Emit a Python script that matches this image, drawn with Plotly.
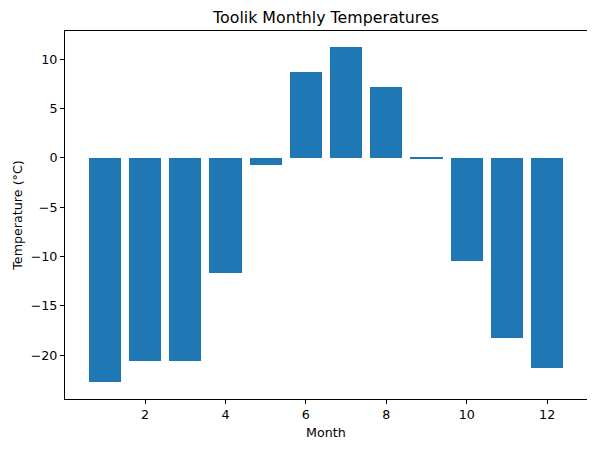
import plotly.graph_objects as go

months = [1, 2, 3, 4, 5, 6, 7, 8, 9, 10, 11, 12]
temperatures = [-22.7, -20.6, -20.6, -11.7, -0.75, 8.65, 11.25, 7.2, -0.06, -10.5, -18.3, -21.35]
x_ticks = [2, 4, 6, 8, 10, 12]
y_ticks = [-20, -15, -10, -5, 0, 5, 10]
y_tick_labels = ["\u221220", "\u221215", "\u221210", "\u22125", "0", "5", "10"]

# page body has an 8px margin, so the figure is sized to fit the 595x451 window
W, H = 587, 443

fig = go.Figure()
fig.add_trace(go.Bar(x=months, y=temperatures, width=0.8,
                     marker=dict(color="#1f77b4", line=dict(width=0))))

axis_common = dict(showline=True, linecolor="black", linewidth=1, mirror=True,
                   ticks="outside", ticklen=4, tickcolor="black", tickwidth=1,
                   showgrid=False, zeroline=False, automargin=False,
                   tickfont=dict(family="DejaVu Sans", size=12.7, color="black"))

fig.update_layout(
    width=W, height=H,
    margin=dict(l=57, r=8, t=23, b=52),
    paper_bgcolor="white", plot_bgcolor="white",
    font=dict(family="DejaVu Sans", color="black"),
    title=dict(text="Toolik Monthly Temperatures", x=318 / W, xanchor="center",
               y=1 - 9 / H, yanchor="middle",
               font=dict(family="DejaVu Sans", size=15.8, color="black")),
    showlegend=False,
    bargap=0,
)
fig.update_xaxes(range=[0.01, 12.99], tickvals=x_ticks,
                 title=dict(text="Month", font=dict(family="DejaVu Sans", size=12.7), standoff=6),
                 **axis_common)
fig.update_yaxes(range=[-24.45, 12.85], tickvals=y_ticks, ticktext=y_tick_labels,
                 title=dict(text="Temperature (°C)", font=dict(family="DejaVu Sans", size=12.7), standoff=5),
                 **axis_common)

fig.write_html("out.html")
